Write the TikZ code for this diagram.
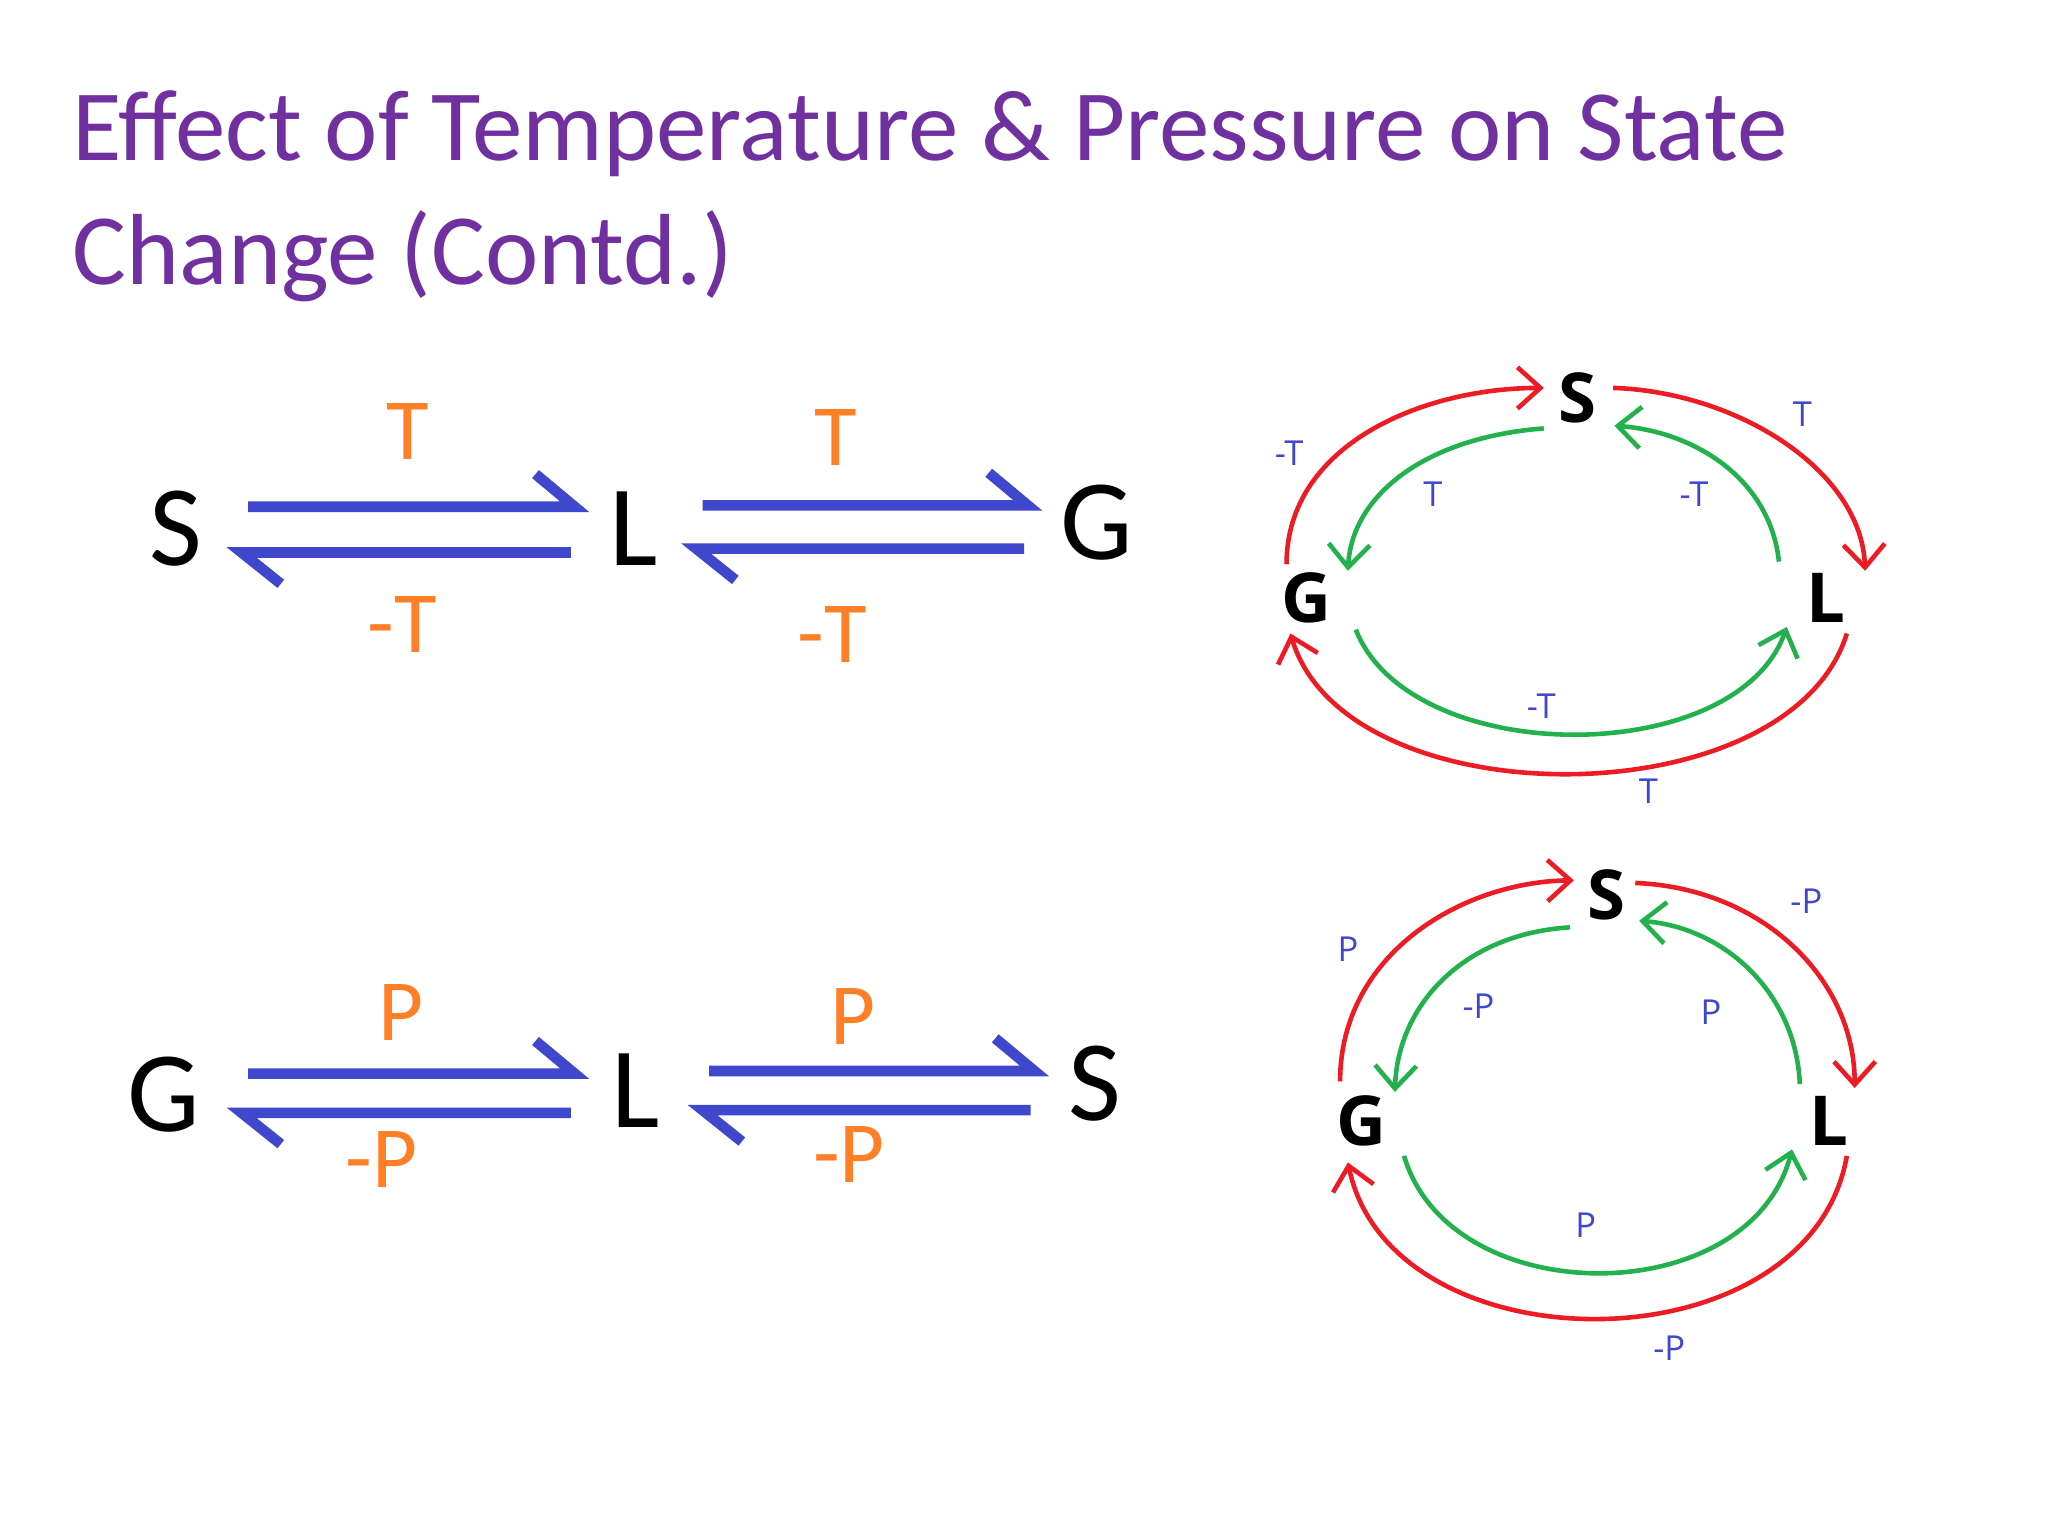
\documentclass[tikz,border=0pt]{standalone}
\usepackage{fontspec}
\setmainfont{Carlito}
\newfontfamily\lbl{Open Sans}
\usetikzlibrary{arrows.meta}
\definecolor{ttl}{HTML}{7030A0}
\definecolor{eqb}{HTML}{3F48CC}
\definecolor{org}{HTML}{FF7F27}
\definecolor{rd}{HTML}{ED1C24}
\definecolor{gr}{HTML}{22B14C}
\definecolor{lb}{HTML}{3F48CC}
\tikzset{
 letter/.style={font=\fontsize{25}{25}\selectfont, inner sep=0pt},
 cletter/.style={font=\lbl\bfseries\fontsize{15}{15}\selectfont, inner sep=0pt},
 olab/.style={text=org, font=\fontsize{19}{19}\selectfont, inner sep=0pt},
 blab/.style={text=lb, font=\lbl\fontsize{7.5}{8}\selectfont, inner sep=0pt},
 bar/.style={eqb, line width=2.3pt},
 red arc/.style={rd, line width=1pt, -{Straight Barb[length=5pt,width=9pt]}},
 green arc/.style={gr, line width=1pt, -{Straight Barb[length=5pt,width=9pt]}},
}
\begin{document}
\begin{tikzpicture}[x=0.01cm,y=-0.01cm]
\useasboundingbox (0,0) rectangle (1568,1176);
\fill[white] (0,0) rectangle (1568,1176);
\node[anchor=west, text=ttl, font=\fontsize{22}{27}\selectfont, align=left, inner sep=0pt] (title) at (55,150)
 {Effect of Temperature \& Pressure on State\\Change (Contd.)};
% row 1
\node[letter] (s1) at (135,405) {S};
\node[letter] (l1) at (485,405) {L};
\node[letter] (g1) at (840,400) {G};
\newcommand{\harp}[4]{% x1 x2 ytop ybot
 \draw[bar] (#1+5,#3) -- (#2,#3) -- (#2-30,#3-25);
 \draw[bar] (#2-3,#4) -- (#1,#4) -- (#1+30,#4+24);}
\harp{185}{440}{388}{423}
\harp{533}{787}{387}{420}
\node[olab] (t1) at (312,330) {T};
\node[olab] (t2) at (308,478) {-T};
\node[olab] (t3) at (640,335) {T};
\node[olab] (t4) at (637,486) {-T};
% row 2
\node[letter] (g2) at (125,838) {G};
\node[letter] (l2) at (487,835) {L};
\node[letter] (s2) at (838,830) {S};
\harp{185}{440}{822}{852}
\harp{538}{792}{820}{850}
\node[olab] (p1) at (307,775) {P};
\node[olab] (p2) at (292,888) {-P};
\node[olab] (p3) at (653,778) {P};
\node[olab] (p4) at (650,884) {-P};
% circle 1
\node[cletter] (cs1) at (1208,305) {S};
\node[cletter] (cg1) at (1000,458) {G};
\node[cletter] (cl1) at (1398,458) {L};
\draw[red arc] (985,432) .. controls (985,340) and (1090,297) .. (1182,297);
\draw[red arc] (1235,297) .. controls (1330,300) and (1425,360) .. (1428,437);
\draw[red arc] (1414,485) .. controls (1370,628) and (1030,628) .. (988,485);
\draw[green arc] (1182,328) .. controls (1090,335) and (1035,380) .. (1032,437);
\draw[green arc] (1362,430) .. controls (1355,365) and (1295,330) .. (1236,326);
\draw[green arc] (1038,482) .. controls (1080,589) and (1330,589) .. (1368,480);
\node[blab] at (987,347) {-T};
\node[blab] at (1380,317) {T};
\node[blab] at (1097,378) {T};
\node[blab] at (1297,378) {-T};
\node[blab] at (1180,541) {-T};
\node[blab] at (1262,606) {T};
% circle 2
\node[cletter] (cs2) at (1230,685) {S};
\node[cletter] (cg2) at (1042,858) {G};
\node[cletter] (cl2) at (1400,858) {L};
\draw[red arc] (1026,828) .. controls (1026,730) and (1120,675) .. (1205,674);
\draw[red arc] (1252,676) .. controls (1350,680) and (1420,750) .. (1420,833);
\draw[red arc] (1414,885) .. controls (1385,1050) and (1065,1050) .. (1032,890);
\draw[green arc] (1202,710) .. controls (1120,715) and (1070,770) .. (1068,836);
\draw[green arc] (1378,830) .. controls (1375,760) and (1320,710) .. (1255,705);
\draw[green arc] (1075,885) .. controls (1110,1005) and (1340,1005) .. (1372,880);
\node[blab] at (1032,727) {P};
\node[blab] at (1383,690) {-P};
\node[blab] at (1132,770) {-P};
\node[blab] at (1310,775) {P};
\node[blab] at (1214,938) {P};
\node[blab] at (1278,1032) {-P};
\end{tikzpicture}
\end{document}
